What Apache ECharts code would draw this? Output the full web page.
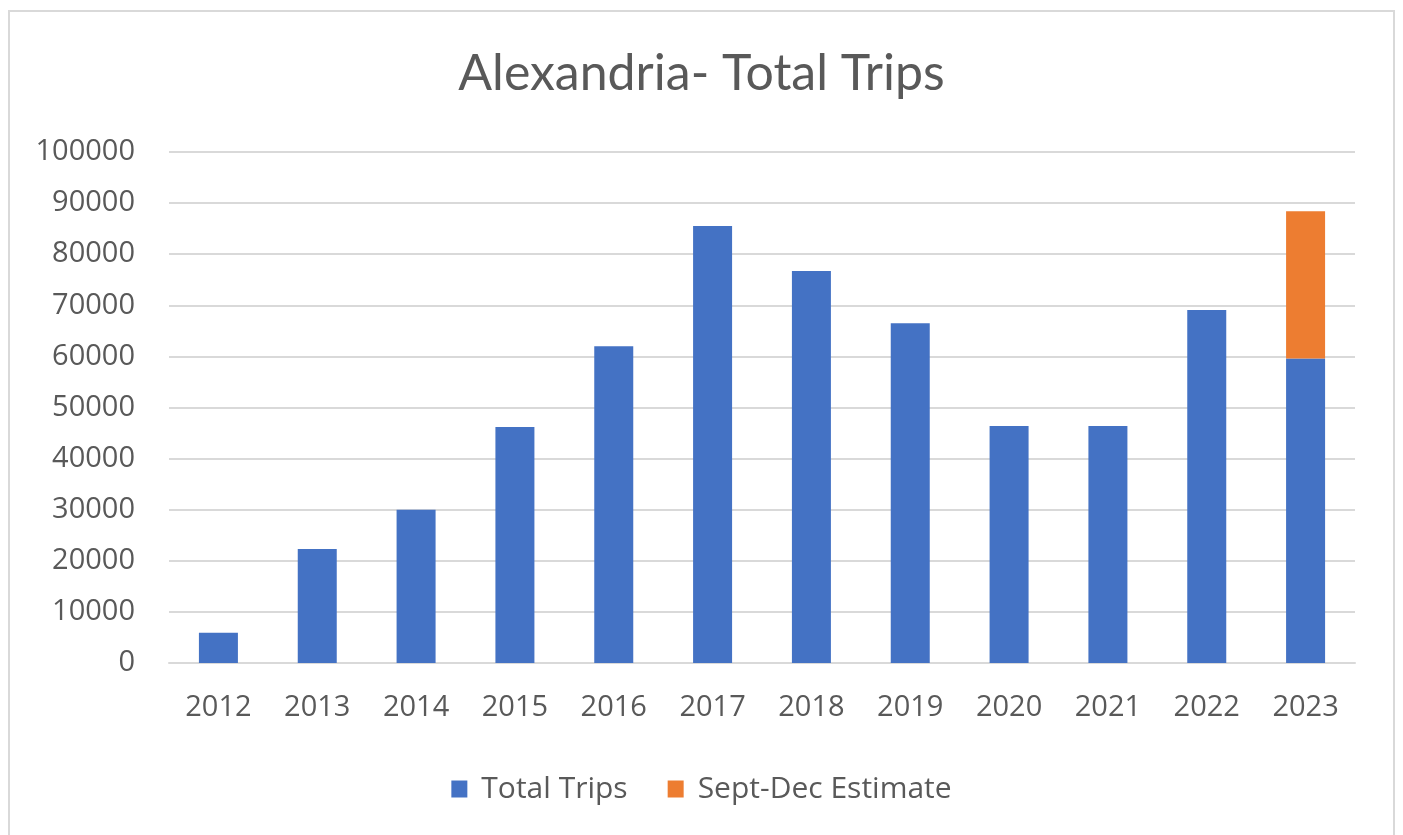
<!DOCTYPE html>
<html>
<head>
<meta charset="utf-8">
<script src="https://cdn.jsdelivr.net/npm/echarts@6/dist/echarts.min.js"></script>
<style>
  html, body { margin: 0; padding: 0; background: #fff; }
  #frame { position: absolute; left: 8px; top: 10px; width: 1387px; height: 825px; border: 2px solid #d9d9d9; border-bottom: none; box-sizing: border-box; }
  #chart { position: absolute; left: 0; top: 0; width: 1403px; height: 835px; }
</style>
</head>
<body>
<div id="frame"></div>
<div id="chart"></div>
<script>
// data
var years = ['2012', '2013', '2014', '2015', '2016', '2017', '2018', '2019', '2020', '2021', '2022', '2023'];
var totalTrips = [5900, 22300, 30000, 46200, 62000, 85500, 76700, 66500, 46400, 46400, 69100, 59600];
var septDecEstimate = [null, null, null, null, null, null, null, null, null, null, null, 28800];

var chart = echarts.init(document.getElementById('chart'));
var txt = '#595959';
chart.setOption({
  animation: false,
  title: {
    text: 'Alexandria- Total Trips',
    left: 'center',
    top: 44,
    textStyle: { color: txt, fontSize: 50, fontWeight: 'normal', fontFamily: 'Lato' }
  },
  legend: {
    top: 769,
    left: 'center',
    itemWidth: 16,
    itemHeight: 17,
    itemGap: 40,
    icon: 'rect',
    textStyle: { color: txt, fontSize: 30, fontFamily: 'Open Sans', padding: [0, 0, 0, 9] },
    data: ['Total Trips', 'Sept-Dec Estimate']
  },
  grid: { left: 169, right: 48, top: 152, bottom: 172 },
  xAxis: {
    type: 'category',
    data: years,
    axisLine: { lineStyle: { color: '#d9d9d9', width: 2 } },
    axisTick: { show: false },
    axisLabel: { color: txt, fontSize: 29, margin: 30, fontFamily: 'Open Sans' }
  },
  yAxis: {
    type: 'value',
    min: 0,
    max: 100000,
    interval: 10000,
    axisLine: { show: false },
    axisTick: { show: false },
    splitLine: { lineStyle: { color: '#d9d9d9', width: 2 } },
    axisLabel: { color: txt, fontSize: 29, margin: 34, fontFamily: 'Open Sans', formatter: function (v) { return String(v); } }
  },
  series: [
    {
      name: 'Total Trips',
      type: 'bar',
      stack: 'trips',
      barWidth: 39,
      itemStyle: { color: '#4472c4' },
      data: totalTrips
    },
    {
      name: 'Sept-Dec Estimate',
      type: 'bar',
      stack: 'trips',
      barWidth: 39,
      itemStyle: { color: '#ed7d31' },
      data: septDecEstimate
    }
  ]
});
</script>
</body>
</html>
